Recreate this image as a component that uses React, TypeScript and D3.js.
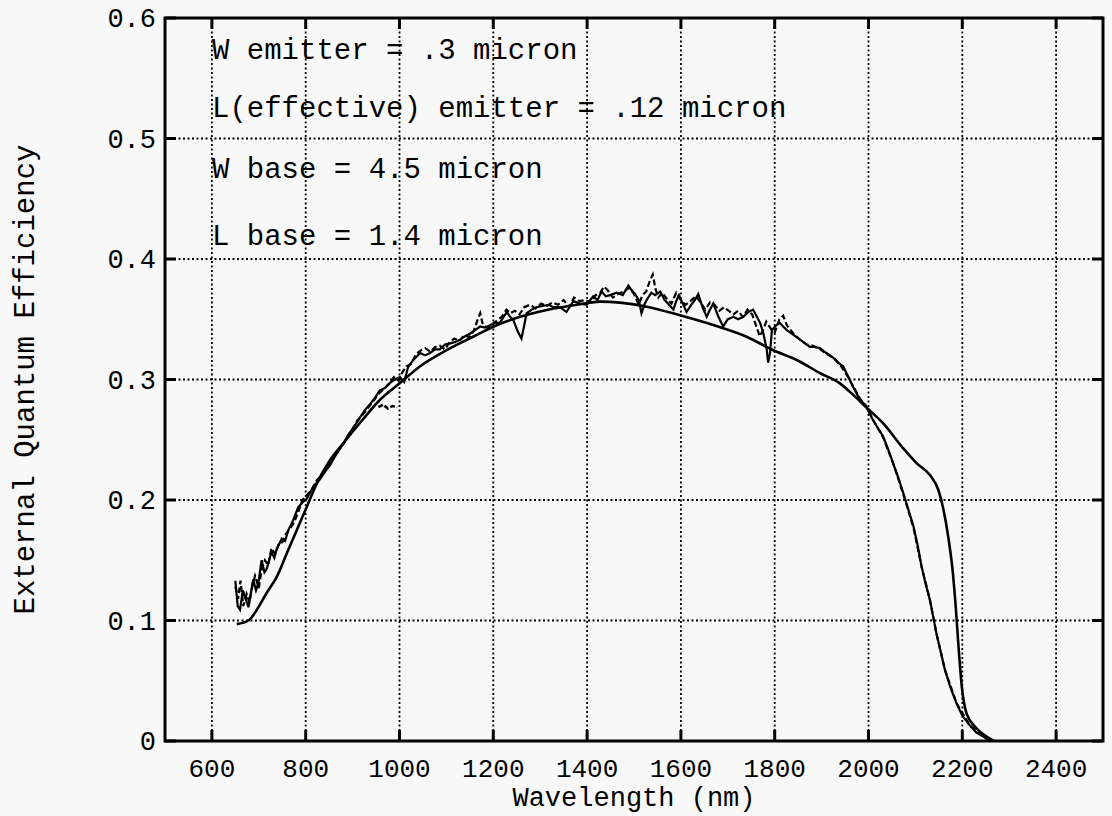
import React from "react";
import * as d3 from "d3";

// ---------- data ----------
const xTicks = [600, 800, 1000, 1200, 1400, 1600, 1800, 2000, 2200, 2400];
const yTicks = [0, 0.1, 0.2, 0.3, 0.4, 0.5, 0.6];
const yTickLabels = ["0", "0.1", "0.2", "0.3", "0.4", "0.5", "0.6"];

const annotations = [
  "W emitter = .3 micron",
  "L(effective) emitter = .12 micron",
  "W base = 4.5 micron",
  "L base = 1.4 micron",
];

// theoretical (smooth) curve
const modelNm = [653, 678, 696, 717, 738, 760, 781, 802, 824, 850, 880, 920, 958, 1001, 1044, 1101, 1157, 1200, 1257, 1314, 1385, 1428, 1470, 1527, 1596, 1669, 1740, 1796, 1847, 1897, 1939, 1961, 1994, 2031, 2074, 2103, 2131, 2149, 2160, 2170, 2180, 2187, 2192, 2199, 2209, 2227, 2259, 2268];
const modelVal = [0.097, 0.1, 0.109, 0.123, 0.136, 0.156, 0.175, 0.194, 0.214, 0.232, 0.247, 0.266, 0.283, 0.297, 0.311, 0.3245, 0.3355, 0.3438, 0.352, 0.3577, 0.3625, 0.3646, 0.3638, 0.3604, 0.3535, 0.3452, 0.3355, 0.3245, 0.3162, 0.3052, 0.2968, 0.2895, 0.2774, 0.2637, 0.2429, 0.2304, 0.2207, 0.2083, 0.1917, 0.1695, 0.1392, 0.106, 0.078, 0.045, 0.023, 0.012, 0.002, 0];

// measured curve (solid)
const measuredNm = [650, 655, 660, 666, 672, 678, 688, 694, 699, 706, 712, 717, 727, 733, 738, 749, 756, 763, 773, 784, 793, 802, 816, 830, 842, 852, 862, 872, 882, 894, 905, 915, 925, 938, 948, 958, 969, 979, 990, 1001, 1010, 1018, 1029, 1044, 1055, 1065, 1076, 1086, 1097, 1108, 1118, 1129, 1140, 1150, 1161, 1172, 1182, 1193, 1204, 1214, 1222, 1229, 1236, 1243, 1252, 1260, 1266, 1271, 1282, 1292, 1305, 1318, 1328, 1342, 1356, 1364, 1371, 1385, 1399, 1413, 1422, 1431, 1440, 1449, 1463, 1476, 1488, 1495, 1502, 1510, 1516, 1522, 1527, 1537, 1545, 1556, 1565, 1575, 1584, 1590, 1596, 1604, 1612, 1622, 1630, 1637, 1646, 1655, 1662, 1669, 1680, 1690, 1700, 1712, 1722, 1733, 1744, 1754, 1762, 1769, 1776, 1783, 1786, 1790, 1794, 1803, 1811, 1818, 1826, 1840, 1854, 1865, 1875, 1886, 1897, 1910, 1925, 1935, 1946, 1957, 1967, 1982, 1993, 2010, 2031, 2042, 2053, 2064, 2074, 2085, 2096, 2105, 2113, 2122, 2131, 2138, 2145, 2154, 2163, 2175, 2188, 2200, 2216, 2230, 2245, 2260];
const measuredVal = [0.133, 0.112, 0.109, 0.125, 0.118, 0.111, 0.134, 0.125, 0.131, 0.15, 0.14, 0.143, 0.157, 0.152, 0.159, 0.168, 0.166, 0.175, 0.183, 0.194, 0.198, 0.201, 0.211, 0.217, 0.224, 0.229, 0.236, 0.242, 0.248, 0.256, 0.262, 0.268, 0.274, 0.28, 0.285, 0.291, 0.293, 0.297, 0.3, 0.302, 0.298, 0.31, 0.316, 0.322, 0.32, 0.322, 0.325, 0.325, 0.329, 0.33, 0.331, 0.333, 0.336, 0.338, 0.341, 0.344, 0.343, 0.345, 0.347, 0.347, 0.352, 0.356, 0.352, 0.349, 0.34, 0.334, 0.345, 0.355, 0.358, 0.36, 0.361, 0.362, 0.36, 0.36, 0.356, 0.361, 0.365, 0.363, 0.362, 0.369, 0.366, 0.373, 0.369, 0.37, 0.372, 0.37, 0.378, 0.374, 0.371, 0.366, 0.355, 0.362, 0.366, 0.372, 0.37, 0.373, 0.366, 0.362, 0.358, 0.365, 0.37, 0.363, 0.356, 0.362, 0.366, 0.371, 0.36, 0.352, 0.358, 0.363, 0.352, 0.344, 0.35, 0.352, 0.35, 0.352, 0.356, 0.358, 0.352, 0.347, 0.338, 0.325, 0.314, 0.322, 0.341, 0.345, 0.347, 0.344, 0.341, 0.337, 0.333, 0.33, 0.327, 0.327, 0.326, 0.322, 0.318, 0.314, 0.311, 0.302, 0.294, 0.283, 0.279, 0.266, 0.253, 0.242, 0.23, 0.218, 0.206, 0.192, 0.178, 0.162, 0.145, 0.13, 0.117, 0.103, 0.089, 0.074, 0.059, 0.044, 0.031, 0.021, 0.013, 0.007, 0.0036, 0];

// measured curve (dashed)
const dashedNm = [650, 656, 661, 667, 674, 680, 686, 692, 700, 706, 713, 720, 727, 735, 742, 750, 758, 766, 775, 784, 793, 802, 812, 823, 833, 845, 856, 866, 877, 888, 899, 910, 920, 932, 944, 955, 966, 977, 988, 998, 1006, 1015, 1025, 1035, 1045, 1055, 1066, 1076, 1086, 1097, 1107, 1117, 1128, 1138, 1148, 1158, 1166, 1172, 1178, 1188, 1198, 1208, 1218, 1228, 1236, 1246, 1256, 1266, 1278, 1290, 1302, 1314, 1326, 1338, 1350, 1362, 1372, 1384, 1396, 1408, 1418, 1428, 1436, 1444, 1455, 1466, 1478, 1490, 1500, 1510, 1518, 1526, 1533, 1540, 1546, 1552, 1560, 1570, 1580, 1590, 1600, 1610, 1620, 1632, 1642, 1652, 1662, 1672, 1682, 1692, 1702, 1712, 1722, 1732, 1742, 1752, 1760, 1768, 1774, 1782, 1792, 1800, 1810, 1818, 1826, 1840, 1854, 1868, 1882, 1897, 1912, 1926, 1940, 1955, 1968, 1982, 1995, 2012, 2031, 2053, 2074, 2096, 2113, 2131, 2145, 2163, 2188, 2216, 2245, 2260];
const dashedVal = [0.128, 0.118, 0.133, 0.112, 0.122, 0.115, 0.128, 0.137, 0.127, 0.142, 0.15, 0.146, 0.16, 0.155, 0.163, 0.165, 0.172, 0.176, 0.181, 0.19, 0.2, 0.204, 0.208, 0.216, 0.22, 0.226, 0.232, 0.24, 0.244, 0.252, 0.258, 0.266, 0.27, 0.276, 0.282, 0.288, 0.292, 0.296, 0.302, 0.299, 0.306, 0.311, 0.313, 0.321, 0.324, 0.326, 0.323, 0.327, 0.328, 0.325, 0.331, 0.334, 0.332, 0.337, 0.335, 0.34, 0.349, 0.355, 0.345, 0.343, 0.346, 0.349, 0.352, 0.358, 0.355, 0.357, 0.354, 0.36, 0.362, 0.359, 0.363, 0.361, 0.364, 0.362, 0.366, 0.36, 0.368, 0.365, 0.366, 0.364, 0.37, 0.372, 0.377, 0.374, 0.368, 0.371, 0.373, 0.376, 0.371, 0.362, 0.37, 0.373, 0.381, 0.387, 0.375, 0.368, 0.372, 0.367, 0.363, 0.372, 0.366, 0.362, 0.365, 0.369, 0.364, 0.358, 0.364, 0.362, 0.357, 0.36, 0.357, 0.354, 0.357, 0.352, 0.358, 0.354, 0.345, 0.336, 0.34, 0.348, 0.342, 0.339, 0.35, 0.353, 0.345, 0.338, 0.333, 0.329, 0.328, 0.325, 0.321, 0.318, 0.312, 0.303, 0.294, 0.284, 0.278, 0.265, 0.252, 0.23, 0.205, 0.177, 0.145, 0.117, 0.089, 0.059, 0.031, 0.013, 0.004, 0];

// short stray dashed fragment near 1000 nm
const fragmentNm = [955, 965, 975, 985, 995];
const fragmentVal = [0.277, 0.279, 0.276, 0.278, 0.277];

// ---------- layout ----------
const W = 1112;
const H = 816;
const left = 165;
const right = 1103;
const top = 18;
const bottom = 741;
const FONT = "'Liberation Mono', 'DejaVu Sans Mono', monospace";

export default function App() {
  const x = d3.scaleLinear().domain([500, 2500]).range([left, right]);
  const y = d3.scaleLinear().domain([0, 0.6]).range([bottom, top]);

  const mk = (nm: number[], v: number[]) => nm.map((n, i) => [n, v[i]] as [number, number]);

  const smooth = d3
    .line<[number, number]>()
    .x((d) => x(d[0]))
    .y((d) => y(d[1]))
    .curve(d3.curveMonotoneX);
  const linear = d3
    .line<[number, number]>()
    .x((d) => x(d[0]))
    .y((d) => y(d[1]));

  return (
    <svg
      width={W}
      height={H}
      style={{ position: "absolute", left: 0, top: 0, background: "#f8f8f8" }}
    >
      <rect x={0} y={0} width={W} height={H} fill="#f8f8f8" />
      {/* grid */}
      {xTicks.map((t) => (
        <line
          key={"gx" + t}
          x1={x(t)}
          x2={x(t)}
          y1={top}
          y2={bottom}
          stroke="#000"
          strokeWidth={1.8}
          strokeDasharray="2,2.5"
        />
      ))}
      {yTicks.slice(1, -1).map((t) => (
        <line
          key={"gy" + t}
          x1={left}
          x2={right}
          y1={y(t)}
          y2={y(t)}
          stroke="#000"
          strokeWidth={1.8}
          strokeDasharray="2,2.5"
        />
      ))}
      {/* ticks */}
      {xTicks.map((t) => (
        <g key={"tx" + t}>
          <line x1={x(t)} x2={x(t)} y1={bottom} y2={bottom - 11} stroke="#000" strokeWidth={3} />
          <line x1={x(t)} x2={x(t)} y1={top} y2={top + 11} stroke="#000" strokeWidth={3} />
        </g>
      ))}
      {yTicks.map((t) => (
        <g key={"ty" + t}>
          <line x1={left} x2={left + 11} y1={y(t)} y2={y(t)} stroke="#000" strokeWidth={3} />
          <line x1={right} x2={right - 11} y1={y(t)} y2={y(t)} stroke="#000" strokeWidth={3} />
        </g>
      ))}
      {/* curves */}
      <path d={smooth(mk(modelNm, modelVal)) || ""} fill="none" stroke="#000" strokeWidth={2.6} />
      <path d={linear(mk(measuredNm, measuredVal)) || ""} fill="none" stroke="#000" strokeWidth={2.2} />
      <path
        d={linear(mk(dashedNm, dashedVal)) || ""}
        fill="none"
        stroke="#000"
        strokeWidth={2.2}
        strokeDasharray="6,3"
      />
      <path
        d={linear(mk(fragmentNm, fragmentVal)) || ""}
        fill="none"
        stroke="#000"
        strokeWidth={2.5}
        strokeDasharray="5,2"
      />
      {/* frame */}
      <rect x={left} y={top} width={right - left} height={bottom - top} fill="none" stroke="#000" strokeWidth={3} />
      {/* annotations */}
      {annotations.map((a, i) => (
        <text key={a} x={212} y={[59, 117, 178, 245][i]} fontFamily={FONT} fontSize={29} fill="#000">
          {a}
        </text>
      ))}
      {/* x tick labels */}
      {xTicks.map((t) => (
        <text key={"lx" + t} x={x(t)} y={777} textAnchor="middle" fontFamily={FONT} fontSize={26} fill="#000">
          {t}
        </text>
      ))}
      {/* y tick labels */}
      {yTicks.map((t, i) => (
        <text key={"ly" + t} x={156} y={y(t) + 9} textAnchor="end" fontFamily={FONT} fontSize={27} fill="#000">
          {yTickLabels[i]}
        </text>
      ))}
      {/* axis titles */}
      <text x={(left + right) / 2} y={806} textAnchor="middle" fontFamily={FONT} fontSize={27} fill="#000">
        Wavelength (nm)
      </text>
      <text
        transform={`translate(34, ${(top + bottom) / 2}) rotate(-90)`}
        textAnchor="middle"
        fontFamily={FONT}
        fontSize={29}
        fill="#000"
      >
        External Quantum Efficiency
      </text>
    </svg>
  );
}
